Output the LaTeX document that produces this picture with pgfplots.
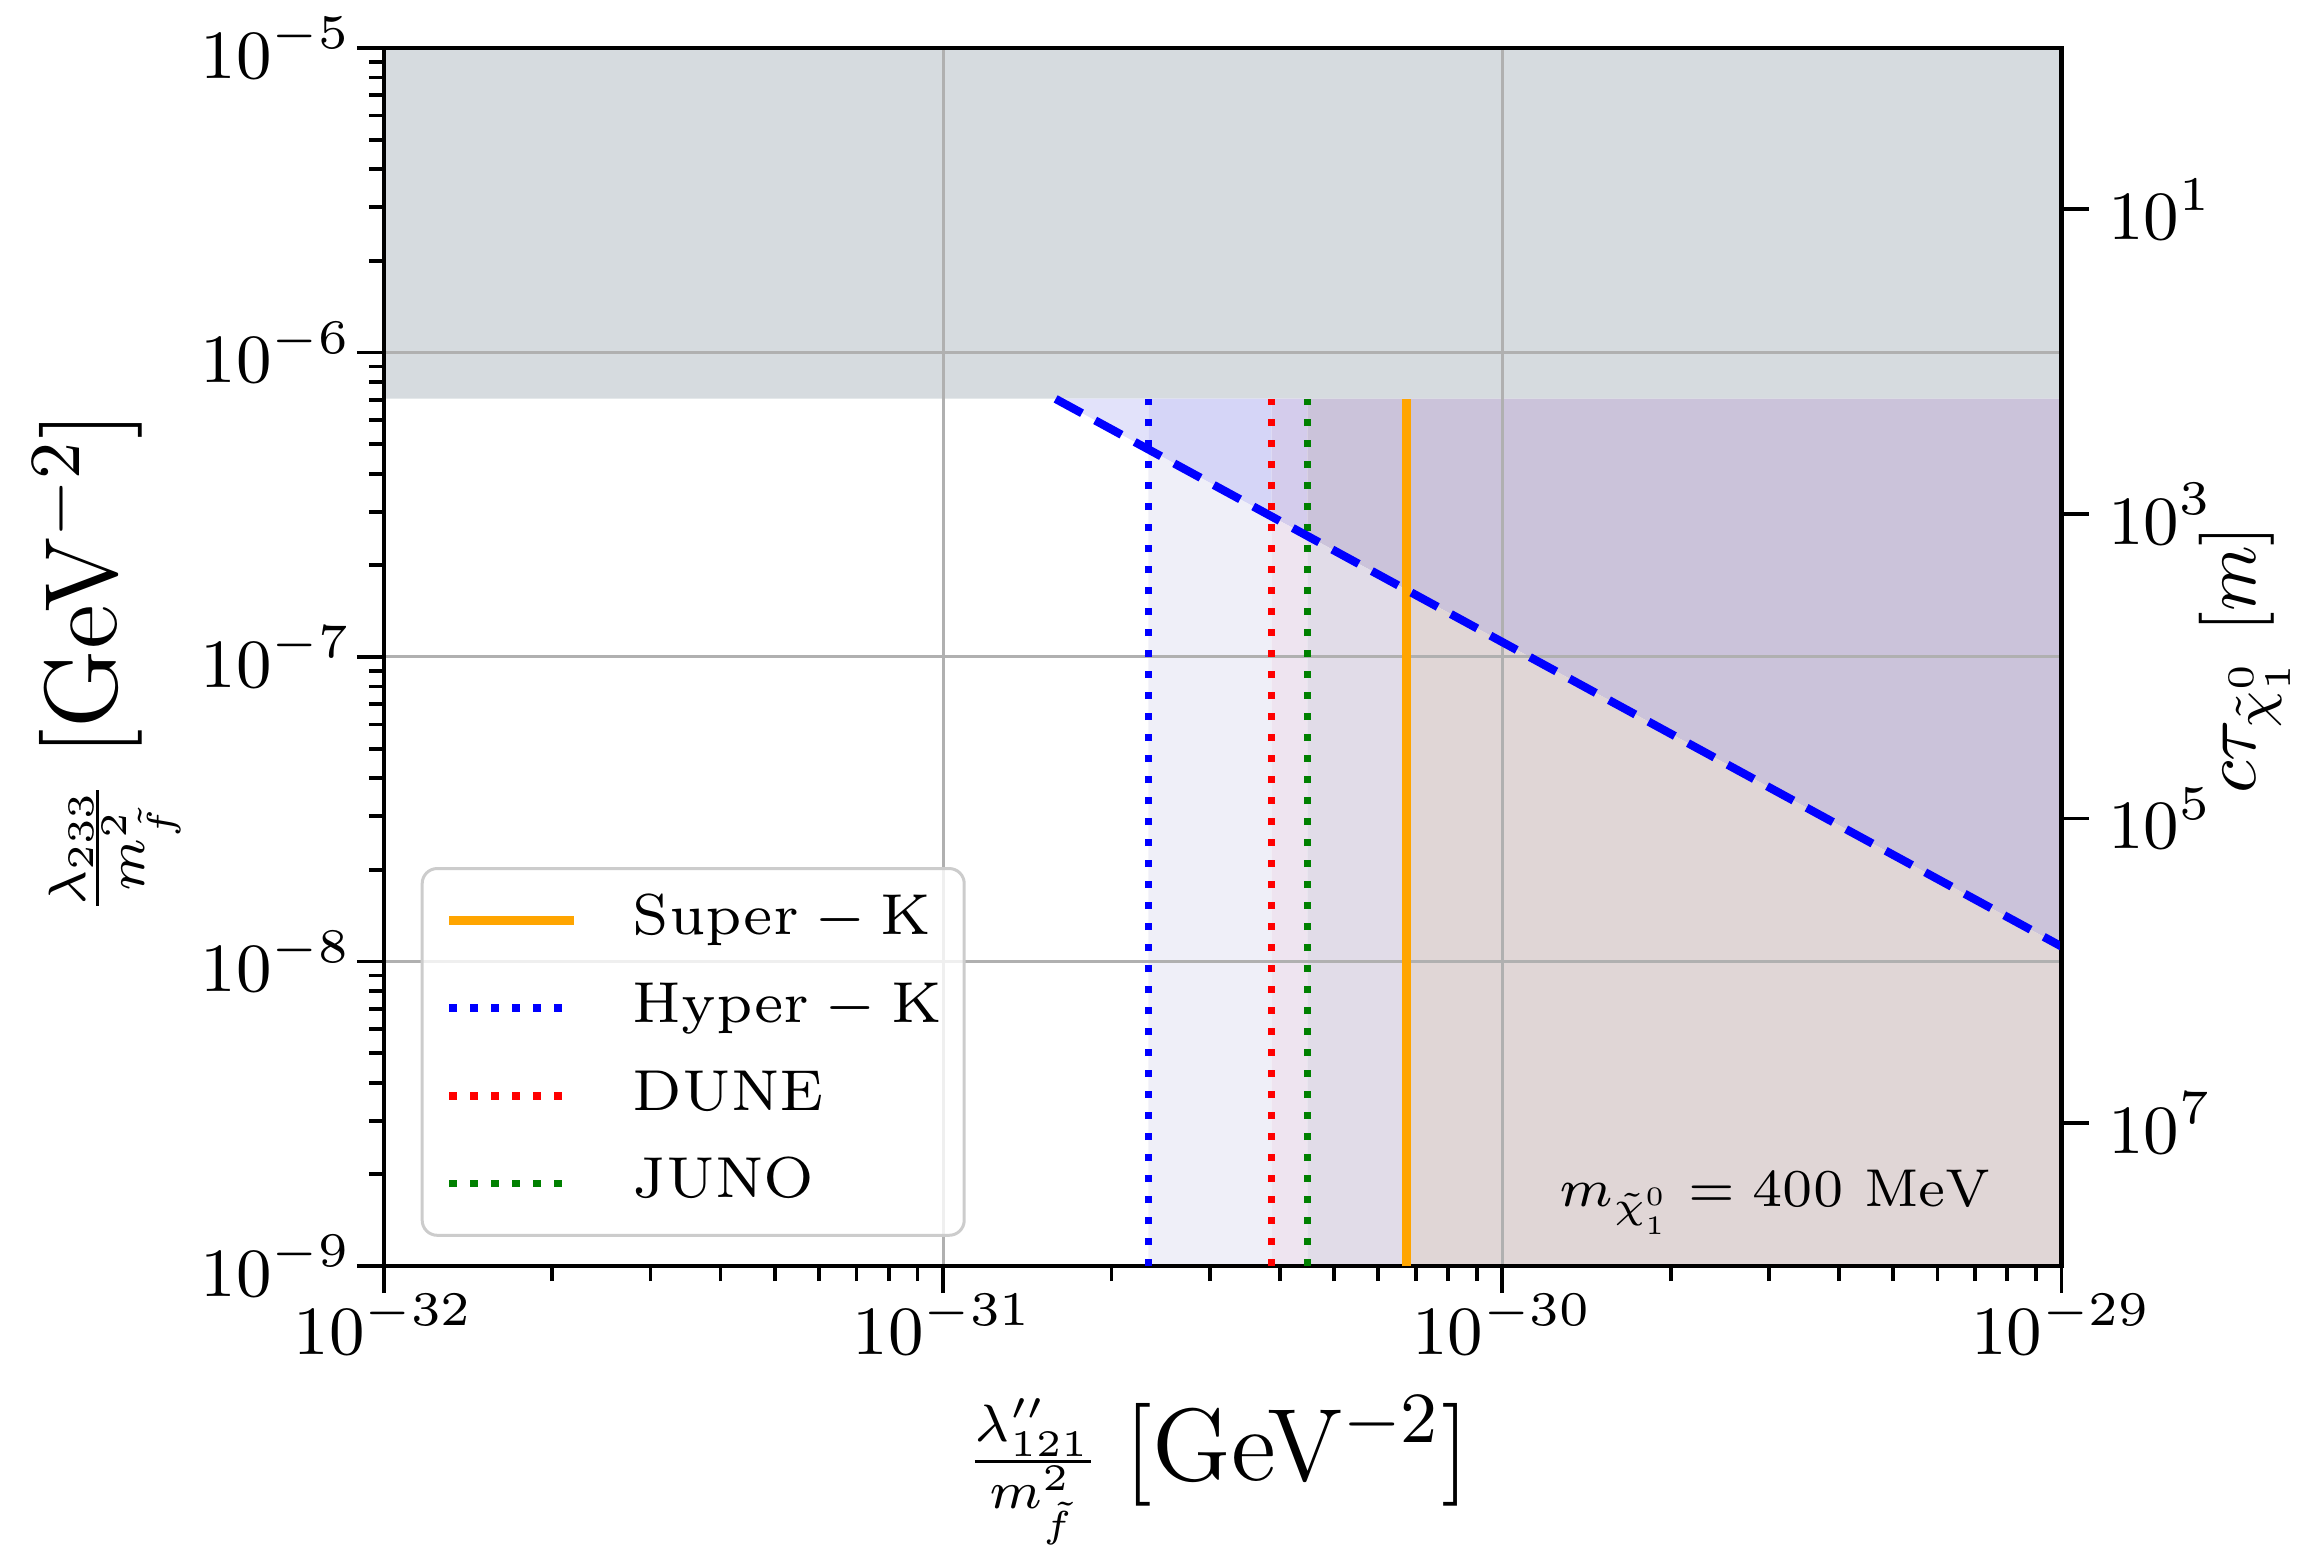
\RequirePackage{fix-cm}
\documentclass[border=0pt]{standalone}
\usepackage{pgfplots}
\pgfplotsset{compat=1.18}
\definecolor{cgray}{RGB}{214,219,223}
\definecolor{aboveA}{RGB}{226,226,250}
\definecolor{aboveB}{RGB}{213,213,247}
\definecolor{aboveC}{RGB}{212,204,236}
\definecolor{aboveD}{RGB}{203,195,218}
\definecolor{belowB}{RGB}{239,239,248}
\definecolor{belowC}{RGB}{238,228,240}
\definecolor{belowD}{RGB}{225,220,232}
\definecolor{belowE}{RGB}{224,214,214}
\definecolor{gridgray}{RGB}{176,176,176}
\definecolor{legendgray}{RGB}{204,204,204}
\definecolor{mplorange}{RGB}{255,165,0}
\definecolor{mplgreen}{RGB}{0,128,0}
\pgfplotsset{
  common/.style={at={(51.2pt,39.5pt)}, anchor=south west,
    scale only axis, width=223.7pt, height=162.4pt},
}
\begin{document}
\begin{tikzpicture}
\useasboundingbox (0,0) rectangle (306.8pt,208.3pt);
% background fills
\begin{axis}[common, hide axis,
  xmode=log, ymode=log,
  xmin=1e-32, xmax=1e-29, ymin=1e-9, ymax=1e-5]
\addplot[fill=cgray, draw=none]
  coordinates {(1e-32,7.05e-7) (1e-29,7.05e-7) (1e-29,1e-5) (1e-32,1e-5) (1e-32,7.05e-7)};
\addplot[fill=aboveA, draw=none]
  coordinates {(1.59e-31,7.05e-7) (2.33e-31,7.05e-7) (2.33e-31,4.807e-7) (1.59e-31,7.05e-7)};
\addplot[fill=aboveB, draw=none]
  coordinates {(2.33e-31,4.807e-7) (2.33e-31,7.05e-7) (3.87e-31,7.05e-7) (3.87e-31,2.894e-7) (2.33e-31,4.807e-7)};
\addplot[fill=aboveC, draw=none]
  coordinates {(3.87e-31,2.894e-7) (3.87e-31,7.05e-7) (4.48e-31,7.05e-7) (4.48e-31,2.5e-7) (3.87e-31,2.894e-7)};
\addplot[fill=aboveD, draw=none]
  coordinates {(4.48e-31,2.5e-7) (4.48e-31,7.05e-7) (1e-29,7.05e-7) (1e-29,1.12e-8) (4.48e-31,2.5e-7)};
\addplot[fill=belowB, draw=none]
  coordinates {(2.33e-31,1e-9) (2.33e-31,4.807e-7) (3.87e-31,2.894e-7) (3.87e-31,1e-9) (2.33e-31,1e-9)};
\addplot[fill=belowC, draw=none]
  coordinates {(3.87e-31,1e-9) (3.87e-31,2.894e-7) (4.48e-31,2.5e-7) (4.48e-31,1e-9) (3.87e-31,1e-9)};
\addplot[fill=belowD, draw=none]
  coordinates {(4.48e-31,1e-9) (4.48e-31,2.5e-7) (6.74e-31,1.662e-7) (6.74e-31,1e-9) (4.48e-31,1e-9)};
\addplot[fill=belowE, draw=none]
  coordinates {(6.74e-31,1e-9) (6.74e-31,1.662e-7) (1e-29,1.12e-8) (1e-29,1e-9) (6.74e-31,1e-9)};
\end{axis}
% main axis
\begin{axis}[common,
  xmode=log, ymode=log,
  xmin=1e-32, xmax=1e-29, ymin=1e-9, ymax=1e-5,
  grid=major, major grid style={color=gridgray, line width=0.4pt},
  tick align=outside, xtick pos=bottom, ytick pos=left,
  major tick length=3.6pt, minor tick length=2pt,
  every tick/.style={black, line width=0.5pt},
  axis line style={line width=0.6pt},
  tick label style={font=\fontsize{9.2}{11}\selectfont},
  xticklabel style={yshift=3.4pt},
  yticklabel style={xshift=2.8pt},
  label style={font=\fontsize{12.5}{15}\selectfont},
  every axis x label/.style={at={(axis description cs:0.497,-0.168)}, anchor=center},
  every axis y label/.style={at={(axis description cs:-0.165,0.495)}, rotate=90, anchor=center},
  xlabel={$\frac{\lambda''_{121}}{m^2_{\tilde f}}$ {\fontsize{13.7}{16}\selectfont[GeV$^{-2}$]}},
  ylabel={$\frac{\lambda_{233}}{m^2_{\tilde f}}$ {\fontsize{13.7}{16}\selectfont[GeV$^{-2}$]}},
  legend style={at={(0.022,0.024)}, anchor=south west, draw=legendgray,
    rounded corners=2pt, fill=white, fill opacity=0.8, text opacity=1,
    font=\fontsize{7.7}{9.5}\selectfont, inner xsep=3pt, inner ysep=3.2pt,
    row sep=4.3pt, column sep=7.3pt,
    nodes={inner sep=0pt, text height=5.6pt, text depth=1.8pt}},
  legend cell align=left,
  legend image code/.code={\draw[#1] (0pt,0pt) -- (16.6pt,0pt);},
]
\addplot[mplorange, line width=1.2pt] coordinates {(6.74e-31,1e-9) (6.74e-31,7.05e-7)};
\addlegendentry{$\mathrm{Super-K}$}
\addplot[blue, line width=1pt, dash pattern=on 1pt off 1.8pt] coordinates {(2.33e-31,1e-9) (2.33e-31,7.05e-7)};
\addlegendentry{$\mathrm{Hyper-K}$}
\addplot[red, line width=1pt, dash pattern=on 1pt off 1.8pt] coordinates {(3.87e-31,1e-9) (3.87e-31,7.05e-7)};
\addlegendentry{$\mathrm{DUNE}$}
\addplot[mplgreen, line width=1pt, dash pattern=on 1pt off 1.8pt] coordinates {(4.48e-31,1e-9) (4.48e-31,7.05e-7)};
\addlegendentry{$\mathrm{JUNO}$}
\addplot[blue, line width=1.1pt, dash pattern=on 4pt off 2pt, forget plot]
  coordinates {(1.59e-31,7.04e-7) (1e-29,1.12e-8)};
\node[font=\fontsize{7.1}{9}\selectfont] at (axis cs:3.08e-30,1.62e-9)
  {$m_{\tilde{\chi}^0_1} = 400\ \mathrm{MeV}$};
\end{axis}
% right axis
\begin{axis}[common,
  ymode=log, ymin=1e-9, ymax=1e-5, xmin=0, xmax=1,
  axis x line=none, axis y line*=right,
  ytick={2.951e-6,2.951e-7,2.951e-8,2.951e-9},
  yticklabels={$10^{1}$,$10^{3}$,$10^{5}$,$10^{7}$},
  yminorticks=false,
  tick align=outside, major tick length=3.6pt,
  every tick/.style={black, line width=0.5pt},
  axis line style={line width=0.6pt},
  tick label style={font=\fontsize{9.2}{11}\selectfont},
  yticklabel style={xshift=-0.9pt},
  label style={font=\fontsize{9.8}{12}\selectfont},
  every axis y label/.style={at={(axis description cs:1.109,0.498)}, rotate=90, anchor=center},
  ylabel={$c\tau_{\tilde{\chi}^0_1}\ [m]$},
]
\addplot[draw=none] coordinates {(0.5,1e-7)};
\end{axis}
\end{tikzpicture}
\end{document}
